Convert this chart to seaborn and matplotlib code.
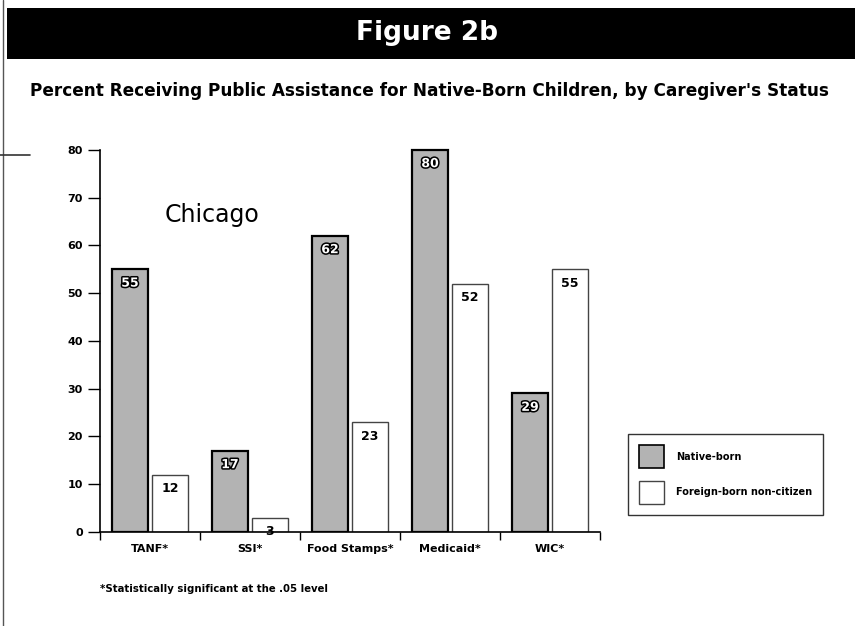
import matplotlib
matplotlib.use("Agg")
import matplotlib.pyplot as plt
import matplotlib.patheffects as pe
from matplotlib.patches import Rectangle
from matplotlib.lines import Line2D
import numpy as np
import pandas as pd
import seaborn as sns

programs = ["TANF*", "SSI*", "Food Stamps*", "Medicaid*", "WIC*"]
native_born = [55, 17, 62, 80, 29]
foreign_born = [12, 3, 23, 52, 55]
groups = ["Native-born", "Foreign-born non-citizen"]
y_ticks = [0, 10, 20, 30, 40, 50, 60, 70, 80]

sns.set_theme(style="white")
plt.rcParams["font.family"] = ["DejaVu Sans"]
plt.rcParams["text.color"] = "black"
plt.rcParams["xtick.color"] = "black"
plt.rcParams["ytick.color"] = "black"

df = pd.DataFrame({
    "program": programs * 2,
    "group": [groups[0]] * len(programs) + [groups[1]] * len(programs),
    "pct": native_born + foreign_born,
})

W, H = 855, 626
fig = plt.figure(figsize=(W / 100, H / 100), dpi=100)
fig.patch.set_facecolor("white")

# header band
fig.add_artist(Rectangle((7 / W, 1 - 59 / H), 1 - 7 / W, 51 / H,
                         transform=fig.transFigure, facecolor="black",
                         edgecolor="none"))
fig.text(427 / W, 1 - 33 / H, "Figure 2b", color="white", fontsize=19,
         fontweight="bold", ha="center", va="center")
fig.text(429 / W, 1 - 91 / H,
         "Percent Receiving Public Assistance for Native-Born Children, by Caregiver's Status",
         color="black", fontsize=12.2, fontweight="bold", ha="center", va="center")
# page border
fig.add_artist(Line2D([3 / W, 3 / W], [0, 1], transform=fig.transFigure,
                      color="#555555", lw=1))
fig.add_artist(Line2D([0, 30 / W], [1 - 155 / H, 1 - 155 / H],
                      transform=fig.transFigure, color="#333333", lw=1.2))

ax_left, ax_right = 100 / W, 600 / W
ax_bottom, ax_top = 1 - 532 / H, 1 - 145 / H
ax = fig.add_axes([ax_left, ax_bottom, ax_right - ax_left, ax_top - ax_bottom])

palette = {groups[0]: "#b3b3b3", groups[1]: "white"}
sns.barplot(data=df, x="program", y="pct", hue="group", palette=palette,
            width=0.8, gap=0.1, ax=ax, legend=False, saturation=1)

for bar in ax.containers[0]:
    bar.set_edgecolor("black")
    bar.set_linewidth(1.6)
for bar in ax.containers[1]:
    bar.set_edgecolor("#444444")
    bar.set_linewidth(1.0)

for bar, v in zip(ax.containers[0], native_born):
    ax.annotate(f"{v}", (bar.get_x() + bar.get_width() / 2, bar.get_height()),
                xytext=(0, -10), textcoords="offset points", ha="center",
                va="center", fontsize=9, fontweight="bold", color="white",
                path_effects=[pe.withStroke(linewidth=2.2, foreground="black")])
for bar, v in zip(ax.containers[1], foreign_born):
    ax.annotate(f"{v}", (bar.get_x() + bar.get_width() / 2, bar.get_height()),
                xytext=(0, -10), textcoords="offset points", ha="center",
                va="center", fontsize=9, fontweight="bold", color="black")

ax.set_xlim(-0.5, len(programs) - 0.5)
ax.set_ylim(0, 81)
ax.set_xlabel("")
ax.set_ylabel("")

for s in ["top", "right"]:
    ax.spines[s].set_visible(False)
ax.spines["left"].set_bounds(0, 80)
ax.spines["left"].set_color("black")
ax.spines["left"].set_linewidth(1.2)
ax.spines["bottom"].set_color("black")
ax.spines["bottom"].set_linewidth(1.2)

ax.set_yticks(y_ticks)
ax.set_yticklabels([str(t) for t in y_ticks], fontsize=8, fontweight="bold")
ax.tick_params(axis="y", direction="out", length=8.5, width=1, color="black",
               pad=4, left=True)

ax.set_xticks(np.arange(-0.5, len(programs)), labels=[""] * (len(programs) + 1))
ax.set_xticks(np.arange(len(programs)), labels=programs, minor=True)
ax.tick_params(axis="x", which="major", direction="out", length=6, width=1,
               color="black", bottom=True)
ax.tick_params(axis="x", which="minor", length=0, pad=9, labelsize=8)
for lbl in ax.get_xticklabels(minor=True):
    lbl.set_fontweight("bold")

ax.text(0.62, 66.4, "Chicago", fontsize=17, ha="center", va="center")

fig.text(100 / W, 1 - 589 / H, "*Statistically significant at the .05 level",
         fontsize=7.3, fontweight="bold", ha="left", va="center")

handles = [Rectangle((0, 0), 1, 1, facecolor=palette[groups[0]], edgecolor="black", lw=1.2),
           Rectangle((0, 0), 1, 1, facecolor="white", edgecolor="#444444", lw=1.0)]
leg = fig.legend(handles, groups, loc="upper left",
                 bbox_to_anchor=(628 / W, 1 - 434 / H), frameon=True,
                 fancybox=False, edgecolor="black", fontsize=7,
                 handlelength=2.6, handleheight=3.3, labelspacing=1.3,
                 borderpad=1.15, handletextpad=1.2, borderaxespad=0)
leg.get_frame().set_linewidth(1.0)
for t in leg.get_texts():
    t.set_fontweight("bold")

fig.savefig("out.png", dpi=100)
